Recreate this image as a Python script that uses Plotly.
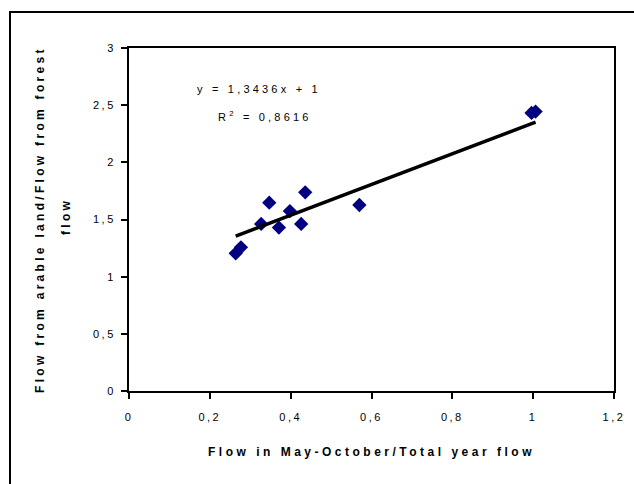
import plotly.graph_objects as go

# ---- data ----
flow_may_oct_ratio = [0.264, 0.277, 0.327, 0.347, 0.371, 0.398, 0.426, 0.436, 0.570, 0.996, 1.006]
arable_forest_ratio = [1.204, 1.257, 1.461, 1.647, 1.429, 1.574, 1.461, 1.738, 1.627, 2.432, 2.444]

trend_slope = 1.3436
trend_intercept = 1.0
r_squared_text = "0,8616"

x_tick_vals = [0, 0.2, 0.4, 0.6, 0.8, 1.0, 1.2]
x_tick_text = ["0", "0,2", "0,4", "0,6", "0,8", "1", "1,2"]
y_tick_vals = [0, 0.5, 1.0, 1.5, 2.0, 2.5, 3.0]
y_tick_text = ["0", "0,5", "1", "1,5", "2", "2,5", "3"]

x_title = "Flow in May-October/Total year flow"
y_title_line1 = "Flow from arable land/Flow from forest"
y_title_line2 = "flow"

# ---- geometry helpers (pixels -> paper) ----
W, H = 634, 484
L, R, T, B = 129, 614, 48, 391


def px(x):
    return (x - L) / (R - L)


def py(y):
    return (B - y) / (B - T)


def spaced(s, sp):
    return '<span style="letter-spacing:%spx">%s</span>' % (sp, s)


FONT = "Liberation Sans, Arial, sans-serif"

trend_x = [min(flow_may_oct_ratio), max(flow_may_oct_ratio)]
trend_y = [trend_slope * v + trend_intercept for v in trend_x]

fig = go.Figure()
fig.add_trace(go.Scatter(
    x=flow_may_oct_ratio, y=arable_forest_ratio, mode="markers",
    marker=dict(symbol="diamond", size=11, color="#000080", line=dict(width=0)),
    showlegend=False, hoverinfo="x+y",
))
fig.add_trace(go.Scatter(
    x=trend_x, y=trend_y, mode="lines",
    line=dict(color="black", width=3.5),
    showlegend=False, hoverinfo="skip",
))

axis_common = dict(
    showgrid=False, zeroline=False, showline=True, linecolor="black", linewidth=2,
    mirror=True, ticks="outside", ticklen=6, tickwidth=2, tickcolor="black",
    tickfont=dict(family=FONT, size=11, color="black"),
)

fig.update_layout(
    width=W, height=H,
    margin=dict(l=L, r=W - R, t=T, b=H - B, autoexpand=False),
    paper_bgcolor="white", plot_bgcolor="white",
    font=dict(family=FONT, color="black"),
    xaxis=dict(range=[0, 1.2], tickmode="array", tickvals=x_tick_vals,
               ticktext=[spaced(t, 2.5) for t in x_tick_text],
               ticklabelstandoff=9, **axis_common),
    yaxis=dict(range=[0, 3], tickmode="array", tickvals=y_tick_vals,
               ticktext=[spaced(t, 2.5) for t in y_tick_text],
               ticklabelstandoff=3, **axis_common),
    shapes=[dict(type="rect", xref="paper", yref="paper",
                 x0=px(10), y0=py(520), x1=px(680), y1=py(12),
                 line=dict(color="black", width=2), fillcolor="rgba(0,0,0,0)", layer="below")],
)

annots = [
    dict(text="<b>" + spaced(x_title, 3.5) + "</b>", x=px(371), y=py(452),
         font=dict(size=12)),
    dict(text="<b>" + spaced(y_title_line1, 3.3) + "</b>", x=px(40), y=py(220),
         font=dict(size=12), textangle=-90),
    dict(text="<b>" + spaced(y_title_line2, 3.3) + "</b>", x=px(66), y=py(217),
         font=dict(size=12), textangle=-90),
    dict(text=spaced("y = 1,3436x + 1", 3.2), x=px(259), y=py(89),
         font=dict(size=11)),
    dict(text=spaced("R<sup>2</sup> = " + r_squared_text, 3.2), x=px(265), y=py(116),
         font=dict(size=11)),
]
for a in annots:
    fig.add_annotation(xref="paper", yref="paper", showarrow=False,
                       xanchor="center", yanchor="middle", **a)

fig.write_html(
    "out.html",
    config={"displayModeBar": False},
    post_script="document.body.style.margin='0px';document.body.style.overflow='hidden';",
)
